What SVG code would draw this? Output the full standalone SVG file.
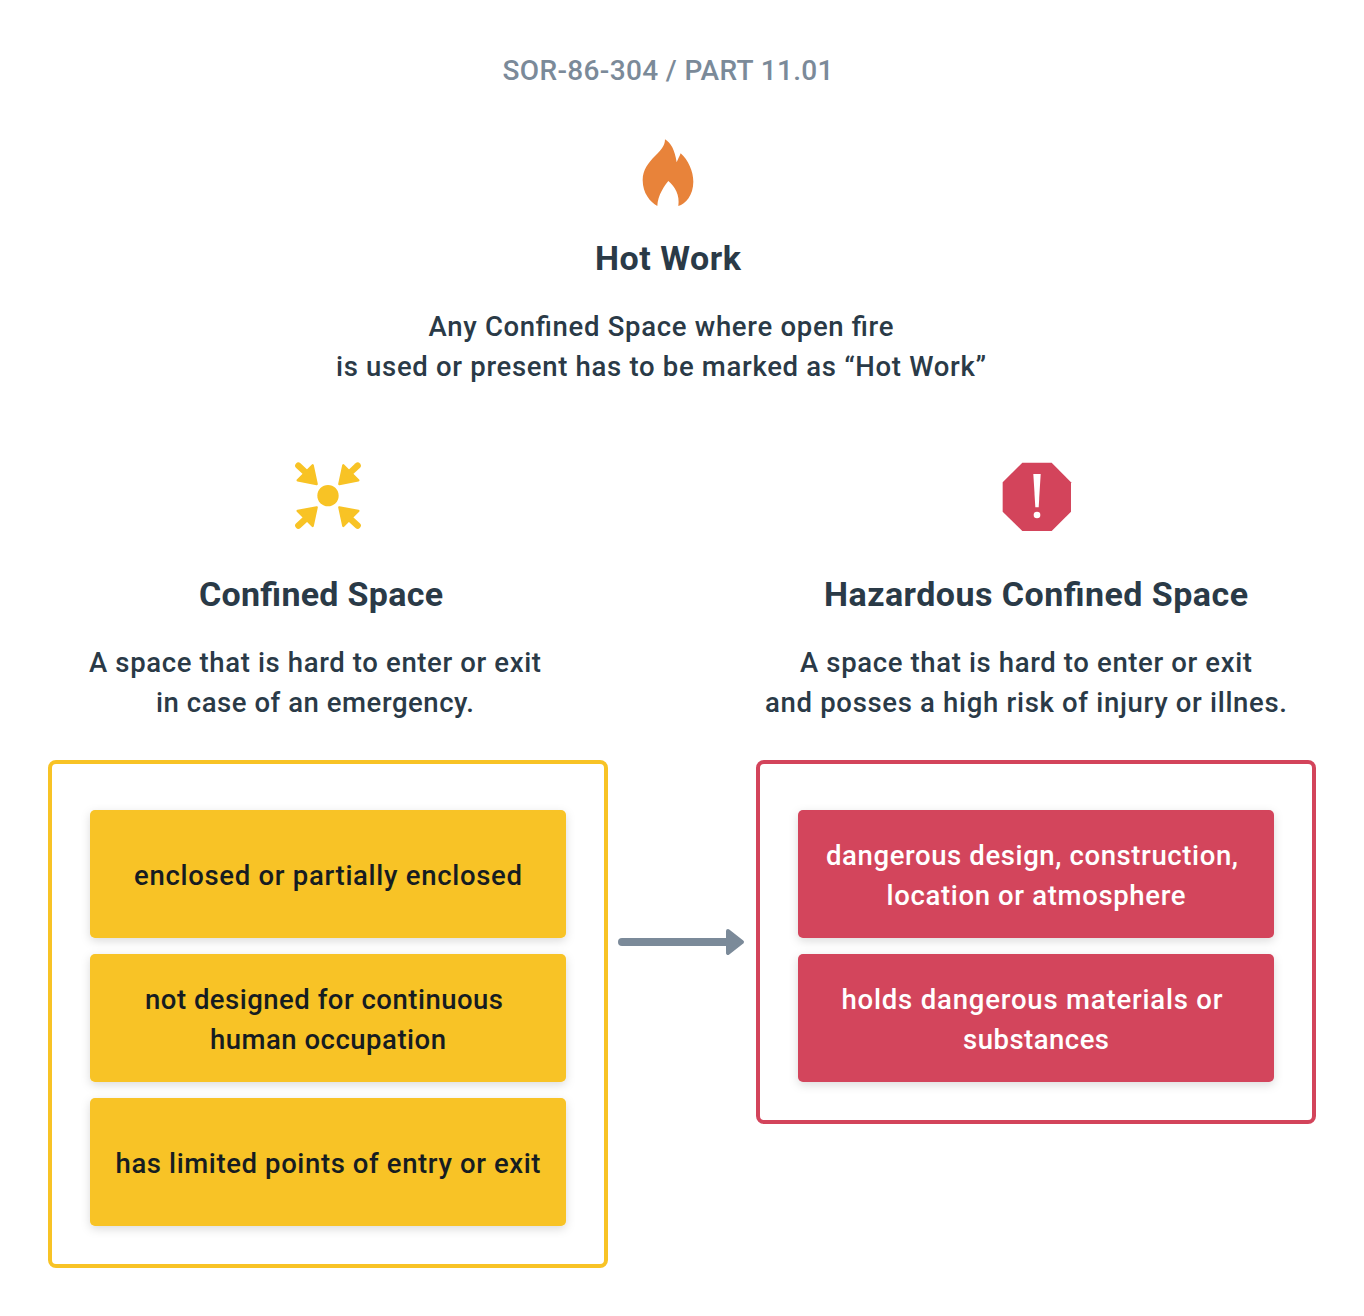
<svg xmlns="http://www.w3.org/2000/svg" width="1364" height="1316" viewBox="0 0 1364 1316">
<style>
text{font-family:Roboto,"Noto Sans",sans-serif;text-anchor:middle;font-size:27.5px;font-weight:500;fill:#2a3a47}
.h{font-size:34px;font-weight:700}
.dark{fill:#161c21}
.light{fill:#fff}
.y{fill:#f8c325}
.r{fill:#d3445b}
.o{fill:none;stroke-width:4}
.ah{stroke-width:4;stroke-linejoin:round}
</style>
<defs>
<filter id="s" x="-10%" y="-20%" width="120%" height="140%"><feDropShadow dx="0" dy="3" stdDeviation="5" flood-color="#000" flood-opacity=".14"/></filter>
<g id="ar"><path d="M110 102L53 91L98 46Z" fill="#f8c325" stroke="#f8c325" stroke-width="7" stroke-linejoin="round"/><path d="M82 72L55 47" stroke="#f8c325" stroke-width="19" stroke-linecap="round" fill="none"/></g>
</defs>
<rect width="1364" height="1316" fill="#fff"/>
<text x="668" y="80" style="fill:#7b8a99;font-size:28px" textLength="331" lengthAdjust="spacing">SOR-86-304 / PART 11.01</text>
<g id="hot-work">
<path transform="translate(620 130) scale(.3333)" fill="#e8833a" d="M112 228C90 215 68 190 68 150C68 120 85 98 105 78C122 62 135 48 135 28C152 38 165 60 170 97C174 88 178 80 182 70C205 90 220 125 220 155C220 195 197 222 175 228C180 195 165 170 145 153C135 165 113 195 112 228Z"/>
<text class="h" x="668" y="270" textLength="146" lengthAdjust="spacing">Hot Work</text>
<text x="661" y="336" textLength="465" lengthAdjust="spacing">Any Confined Space where open fire</text>
<text x="661" y="376" textLength="650" lengthAdjust="spacing">is used or present has to be marked as “Hot Work”</text>
</g>
<g id="confined-space">
<g transform="translate(280 450) scale(.3333)">
<circle cx="144" cy="137" r="32" fill="#f8c325"/>
<use href="#ar"/>
<use href="#ar" transform="translate(288 0) scale(-1 1)"/>
<use href="#ar" transform="translate(0 274) scale(1 -1)"/>
<use href="#ar" transform="translate(288 274) scale(-1 -1)"/>
</g>
<text class="h" x="321" y="606" textLength="244" lengthAdjust="spacing">Confined Space</text>
<text x="315" y="672" textLength="452" lengthAdjust="spacing">A space that is hard to enter or exit</text>
<text x="315" y="712" textLength="318" lengthAdjust="spacing">in case of an emergency.</text>
</g>
<g id="hazardous-confined-space">
<g transform="translate(990 450) scale(.3333)">
<path class="r" d="M97 38H185L243 97V185L185 243H97L38 185V97Z"/>
<path fill="#fff" d="M130 72H152L146 172H136Z"/>
<circle cx="141" cy="195" r="10" fill="#fff"/>
</g>
<text class="h" x="1036" y="606" textLength="424" lengthAdjust="spacing">Hazardous Confined Space</text>
<text x="1026" y="672" textLength="452" lengthAdjust="spacing">A space that is hard to enter or exit</text>
<text x="1026" y="712" textLength="522" lengthAdjust="spacing">and posses a high risk of injury or illnes.</text>
</g>
<g id="confined-box">
<rect class="o" x="50" y="762" width="556" height="504" rx="6" stroke="#f8c325"/>
</g>
<g id="hazardous-box">
<rect class="o" x="758" y="762" width="556" height="360" rx="6" stroke="#d3445b"/>
</g>
<g id="c1"><rect class="y" x="90" y="810" width="476" height="128" rx="5" filter="url(#s)"/>
<text class="dark" x="328" y="885" textLength="388" lengthAdjust="spacing">enclosed or partially enclosed</text></g>
<g id="c2"><rect class="y" x="90" y="954" width="476" height="128" rx="5" filter="url(#s)"/>
<text class="dark" x="324" y="1009" textLength="358" lengthAdjust="spacing">not designed for continuous</text>
<text class="dark" x="328" y="1049" textLength="236" lengthAdjust="spacing">human occupation</text></g>
<g id="c3"><rect class="y" x="90" y="1098" width="476" height="128" rx="5" filter="url(#s)"/>
<text class="dark" x="328" y="1173" textLength="425" lengthAdjust="spacing">has limited points of entry or exit</text></g>
<g id="h1"><rect class="r" x="798" y="810" width="476" height="128" rx="5" filter="url(#s)"/>
<text class="light" x="1032" y="865" textLength="412" lengthAdjust="spacing">dangerous design, construction,</text>
<text class="light" x="1036" y="905" textLength="299" lengthAdjust="spacing">location or atmosphere</text></g>
<g id="h2"><rect class="r" x="798" y="954" width="476" height="128" rx="5" filter="url(#s)"/>
<text class="light" x="1032" y="1009" textLength="381" lengthAdjust="spacing">holds dangerous materials or</text>
<text class="light" x="1036" y="1049" textLength="146" lengthAdjust="spacing">substances</text></g>
<g id="connectors">
<path d="M622 942H728" stroke="#7b8a99" stroke-width="8" stroke-linecap="round" fill="none"/>
<path class="ah" d="M728 931L742 942L728 953Z" fill="#7b8a99" stroke="#7b8a99"/>
</g>
</svg>
